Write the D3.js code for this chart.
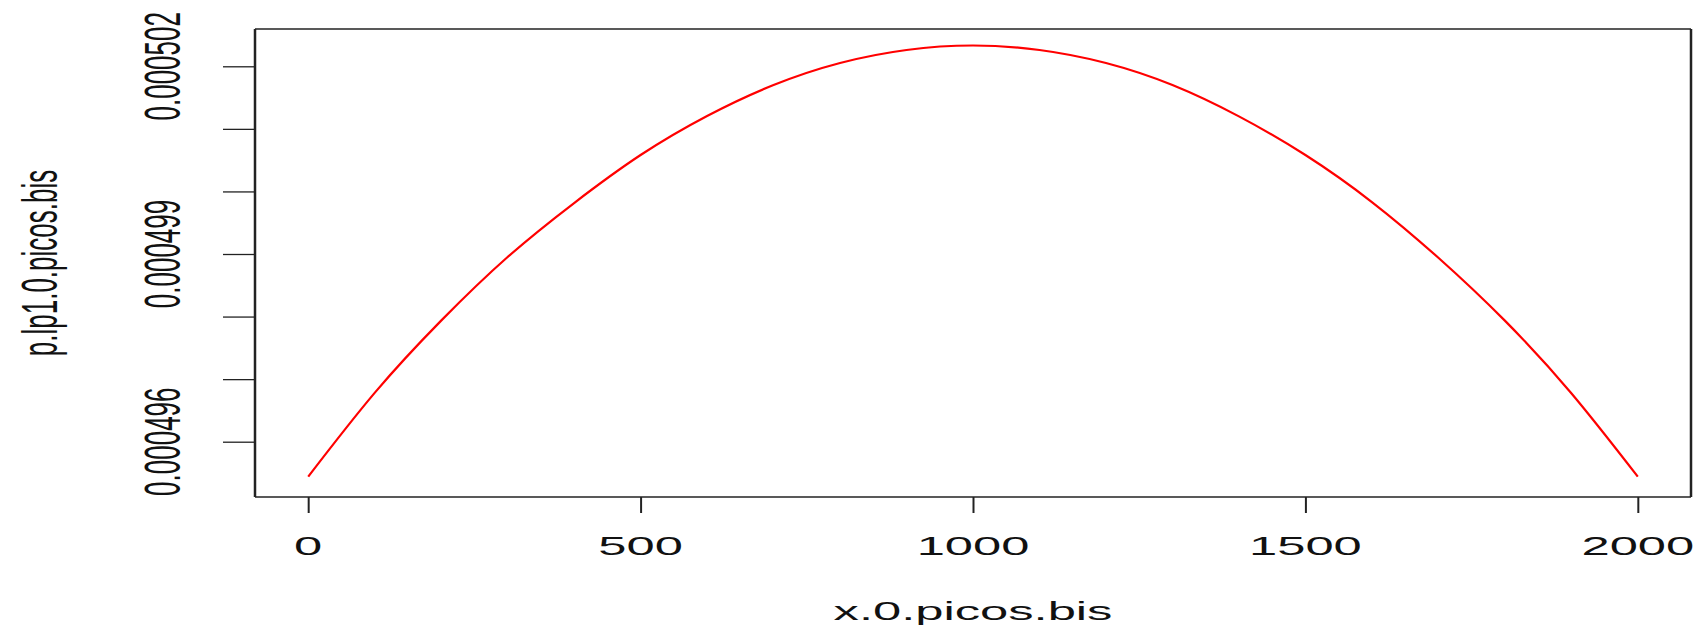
<html>
<head>
<script src="https://d3js.org/d3.v7.min.js"></script>
<style>
  body { margin: 0; background: #fff; }
  .lbl { font-family: "Liberation Sans", Arial, sans-serif; font-size: 26px; fill: #111; }
</style>
</head>
<body>
<svg id="plot" width="1699" height="629"></svg>
<script>
// values
const xValues = [0, 100, 200, 300, 400, 500, 600, 700, 800, 900, 1000,
                 1100, 1200, 1300, 1400, 1500, 1600, 1700, 1800, 1900, 2000];
const pValues = [0.000495441, 0.000496780, 0.000497935, 0.000498952, 0.000499815, 0.000500582,
                 0.000501206, 0.000501701, 0.000502053, 0.000502261, 0.000502332,
                 0.000502261, 0.000502053, 0.000501701, 0.000501200, 0.000500582,
                 0.000499831, 0.000498940, 0.000497935, 0.000496775, 0.000495441];
const xTicks = [0, 500, 1000, 1500, 2000];
const yTicks = [0.000496, 0.000497, 0.000498, 0.000499, 0.000500, 0.000501, 0.000502];
const yLabels = ["0.000496", "0.000499", "0.000502"];
const xTitle = "x.0.picos.bis";
const yTitle = "p.lp1.0.picos.bis";

const svg = d3.select("svg#plot");
const box = {left: 255, right: 1691, top: 29, bottom: 497};
const sx = 1.95; // the picture is stretched sideways

const xScale = d3.scaleLinear().domain([-80, 2080]).range([box.left, box.right]);
const yScale = d3.scaleLinear().domain([0.0004951162, 0.0005025961]).range([box.bottom, box.top]);

// curve
const pts = xValues.map((x, i) => ({x: x, y: pValues[i]}));
const lineGen = d3.line()
    .x(d => xScale(d.x))
    .y(d => yScale(d.y))
    .curve(d3.curveNatural);
svg.append("path")
    .datum(pts)
    .attr("fill", "none")
    .attr("stroke", "#ff0000")
    .attr("stroke-width", 2.2)
    .attr("d", lineGen);

// x axis ticks
const xAxis = d3.axisBottom(xScale).tickValues(xTicks).tickSize(16).tickFormat("");
const gx = svg.append("g")
    .attr("transform", `translate(0,${box.bottom})`)
    .call(xAxis);
gx.select(".domain").remove();
gx.selectAll(".tick line").attr("stroke", "#222").attr("stroke-width", 2);

xTicks.forEach(t => {
  svg.append("text")
      .attr("class", "lbl")
      .attr("text-anchor", "middle")
      .attr("transform", `translate(${xScale(t)},555) scale(${sx},1)`)
      .text(d3.format("d")(t));
});

// y axis ticks
const yAxis = d3.axisLeft(yScale).tickValues(yTicks).tickSize(32).tickFormat("");
const gy = svg.append("g")
    .attr("transform", `translate(${box.left},0)`)
    .call(yAxis);
gy.select(".domain").remove();
gy.selectAll(".tick line").attr("stroke", "#222").attr("stroke-width", 1.3);

yLabels.forEach(l => {
  svg.append("text")
      .attr("class", "lbl")
      .attr("text-anchor", "middle")
      .attr("transform", `translate(180,${yScale(+l)}) scale(${sx},1) rotate(-90)`)
      .text(l);
});

// frame
const frame = svg.append("g").attr("stroke", "#222");
frame.append("line").attr("x1", box.left).attr("x2", box.right).attr("y1", box.top).attr("y2", box.top).attr("stroke-width", 1.5);
frame.append("line").attr("x1", box.left).attr("x2", box.right).attr("y1", box.bottom).attr("y2", box.bottom).attr("stroke-width", 1.5);
frame.append("line").attr("x1", box.left).attr("x2", box.left).attr("y1", box.top).attr("y2", box.bottom).attr("stroke-width", 2.5);
frame.append("line").attr("x1", box.right).attr("x2", box.right).attr("y1", box.top).attr("y2", box.bottom).attr("stroke-width", 2.5);

// axis titles
svg.append("text")
    .attr("class", "lbl")
    .attr("text-anchor", "middle")
    .attr("transform", `translate(${(box.left + box.right) / 2},620) scale(${sx},1)`)
    .text(xTitle);
svg.append("text")
    .attr("class", "lbl")
    .attr("text-anchor", "middle")
    .attr("transform", `translate(57,${(box.top + box.bottom) / 2}) scale(${sx},1) rotate(-90)`)
    .text(yTitle);
</script>
</body>
</html>
